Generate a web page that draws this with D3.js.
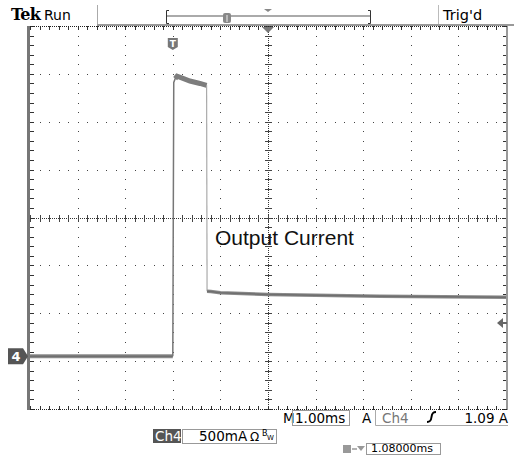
<!DOCTYPE html>
<html><head><meta charset="utf-8">
<script src="https://cdn.jsdelivr.net/npm/d3@7"></script>
<style>html,body{margin:0;padding:0;background:#fff;}svg{display:block;}</style>
</head><body>
<script>
// ---- data (time in ms relative to trigger, current in A) ----
const baseline = [[-3,0],[-1.5,0],[0,0]];
const pulse = [[0,0],[0.02,2.86],[0.05,2.90],[0.09,2.925],[0.2,2.905],[0.36,2.875],[0.57,2.85],[0.71,2.83]];
const fall = [[0.71,2.83],[0.72,0.68]];
const tail = [[0.72,0.68],[0.8,0.676],[1,0.665],[2,0.647],[3,0.637],[4.35,0.627],[7,0.617]];
const timeDomain = [-3,7];      // 10 div at 1.00 ms/div
const currentDomain = [-0.55,3.45]; // 8 div at 500 mA/div
const headerTexts = {tek:"Tek", run:"Run", trig:"Trig'd"};
const footer = {m:"M", timebase:"1.00ms", a:"A", src:"Ch4", level:"1.09 A", ch:"Ch4", scale:"500mA", pos:"1.08000ms"};
const label = "Output Current";

const W=514,H=455;
const svg=d3.select("body").append("svg").attr("width",W).attr("height",H);
const L=30,R=506,T=26,B=409;
const x=d3.scaleLinear().domain(timeDomain).range([L,R]);
const y=d3.scaleLinear().domain(currentDomain).range([B,T]);
const divX=(R-L)/10, divY=(B-T)/8;
const cx=(L+R)/2, cy=(T+B)/2;
const g=svg.append("g");
const dotC="#444";
// grid dots
for(let i=1;i<10;i++){ if(i===5) continue;
  const xx=L+i*divX;
  for(let j=0;j<=40;j++){ const yy=T+j*divY/5; g.append("rect").attr("x",Math.round(xx)).attr("y",Math.round(yy)).attr("width",1).attr("height",1).attr("fill",dotC);}
}
for(let j=1;j<8;j++){ if(j===4) continue;
  const yy=T+j*divY;
  for(let i=0;i<=50;i++){ const xx=L+i*divX/5; g.append("rect").attr("x",Math.round(xx)).attr("y",Math.round(yy)).attr("width",1).attr("height",1).attr("fill",dotC);}
}
// center lines (dotted + ticks)
for(let k=L;k<=R;k+=2){ g.append("rect").attr("x",k).attr("y",Math.round(cy)).attr("width",1).attr("height",1).attr("fill","#333");}
for(let k=T;k<=B;k+=2){ g.append("rect").attr("x",Math.round(cx)).attr("y",k).attr("width",1).attr("height",1).attr("fill","#333");}
for(let i=0;i<=50;i++){ const xx=Math.round(L+i*divX/5); g.append("rect").attr("x",xx).attr("y",Math.round(cy)-3).attr("width",1).attr("height",7).attr("fill","#444");}
for(let j=0;j<=40;j++){ const yy=Math.round(T+j*divY/5); g.append("rect").attr("x",Math.round(cx)-3).attr("y",yy).attr("width",7).attr("height",1).attr("fill","#444");}
// border ticks
for(let i=0;i<=50;i++){ const xx=Math.round(L+i*divX/5);
  g.append("rect").attr("x",xx).attr("y",T).attr("width",1).attr("height",4).attr("fill","#333");
  g.append("rect").attr("x",xx).attr("y",B-3).attr("width",1).attr("height",4).attr("fill","#333");}
for(let j=0;j<=40;j++){ const yy=Math.round(T+j*divY/5);
  g.append("rect").attr("x",L).attr("y",yy).attr("width",4).attr("height",1).attr("fill","#333");
  g.append("rect").attr("x",R-3).attr("y",yy).attr("width",4).attr("height",1).attr("fill","#333");}
// borders
g.append("rect").attr("x",L-3).attr("y",T).attr("width",3).attr("height",B-T+1).attr("fill","#777");
g.append("rect").attr("x",R).attr("y",T).attr("width",2).attr("height",B-T+1).attr("fill","#999");
for(let k=L;k<=R;k+=2){ g.append("rect").attr("x",k).attr("y",T).attr("width",1).attr("height",1).attr("fill","#222");
  g.append("rect").attr("x",k).attr("y",B).attr("width",1).attr("height",1).attr("fill","#222");}

// ---- trace ----
const line=d3.line().x(d=>x(d[0])).y(d=>y(d[1]));
const traceC="#7d7d7d";
svg.append("path").datum(baseline).attr("d",line).attr("fill","none").attr("stroke","#8a8a8a").attr("stroke-width",4);
svg.append("path").datum(baseline).attr("d",line).attr("fill","none").attr("stroke","#6f6f6f").attr("stroke-width",1.5);
svg.append("path").datum(pulse).attr("d",line).attr("fill","none").attr("stroke","#777").attr("stroke-width",1.5);
svg.append("path").datum(pulse.slice(2)).attr("d",line).attr("fill","none").attr("stroke",traceC).attr("stroke-width",5);
svg.append("path").datum(fall).attr("d",line).attr("fill","none").attr("stroke","#aaa").attr("stroke-width",1.2);
svg.append("path").datum(tail).attr("d",line).attr("fill","none").attr("stroke","#8a8a8a").attr("stroke-width",3.5);
svg.append("path").datum(tail).attr("d",line).attr("fill","none").attr("stroke","#6f6f6f").attr("stroke-width",1.5);

// label
svg.append("text").attr("x",215).attr("y",245).attr("font-family","Liberation Sans, Arial, sans-serif").attr("font-size",21).attr("fill","#111").text(label);

// ---- header ----
svg.append("text").attr("x",11).attr("y",20).attr("font-family","DejaVu Serif, serif").attr("font-weight","bold").attr("font-size",16).attr("fill","#000").attr("letter-spacing",-0.8).text(headerTexts.tek);
svg.append("text").attr("x",44).attr("y",20).attr("font-family","DejaVu Sans, sans-serif").attr("font-size",14).attr("fill","#000").text(headerTexts.run);
svg.append("text").attr("x",443).attr("y",20).attr("font-family","DejaVu Sans, sans-serif").attr("font-size",14.5).attr("fill","#000").text(headerTexts.trig);
svg.append("rect").attr("x",97).attr("y",5).attr("width",1).attr("height",20).attr("fill","#aaa");
svg.append("rect").attr("x",438).attr("y",5).attr("width",1).attr("height",20).attr("fill","#bbb");
svg.append("rect").attr("x",97).attr("y",24).attr("width",W-97).attr("height",2).attr("fill","#999");
// record bar
svg.append("rect").attr("x",167).attr("y",15).attr("width",203).attr("height",2).attr("fill","#aaa");
svg.append("path").attr("d","M169,10.5 H166.5 V23.5 H169").attr("fill","none").attr("stroke","#333").attr("stroke-width",1);
svg.append("path").attr("d","M368,10.5 H370.5 V23.5 H368").attr("fill","none").attr("stroke","#333").attr("stroke-width",1);
svg.append("rect").attr("x",223).attr("y",13).attr("width",8).attr("height",10).attr("rx",2).attr("fill","#888");
svg.append("rect").attr("x",226.5).attr("y",15).attr("width",1).attr("height",7).attr("fill","#eee");
svg.append("path").attr("d","M264,9 L272,9 L268,12 Z").attr("fill","#888");
// trigger position marker
svg.append("path").attr("d",`M${cx-6},27 L${cx+6},27 L${cx},33 Z`).attr("fill","#777");
// T marker
const tx=x(0);
svg.append("path").attr("d",`M${tx-5},38 h10 v9 l-5,3 l-5,-3 Z`).attr("fill","#777");
svg.append("text").attr("x",tx).attr("y",47).attr("text-anchor","middle").attr("font-family","DejaVu Sans, sans-serif").attr("font-weight","bold").attr("font-size",9).attr("fill","#fff").text("T");
// ch4 ground marker
const gy=y(0);
svg.append("path").attr("d",`M8,${gy-8} h15 l5,8 l-5,8 h-15 Z`).attr("fill","#555");
svg.append("text").attr("x",16).attr("y",gy+5).attr("text-anchor","middle").attr("font-family","DejaVu Sans, sans-serif").attr("font-weight","bold").attr("font-size",13).attr("fill","#fff").text("4");
// trigger level arrow
svg.append("path").attr("d","M497,323 L503,318 L503,328 Z").attr("fill","#666");
svg.append("rect").attr("x",501).attr("y",322).attr("width",6).attr("height",2).attr("fill","#666");

// ---- footer ----
const ff="DejaVu Sans, sans-serif";
svg.append("text").attr("x",283).attr("y",423).attr("font-family",ff).attr("font-size",13.5).attr("fill","#000").text(footer.m);
svg.append("rect").attr("x",292.5).attr("y",410.5).attr("width",57).attr("height",15).attr("fill","none").attr("stroke","#999");
svg.append("text").attr("x",295).attr("y",423).attr("font-family",ff).attr("font-size",13.5).attr("fill","#000").text(footer.timebase);
svg.append("text").attr("x",362).attr("y",423).attr("font-family",ff).attr("font-size",13.5).attr("fill","#000").text(footer.a);
svg.append("path").attr("d",`M375.5,410 V425.5 H${R+2}`).attr("fill","none").attr("stroke","#aaa");
svg.append("text").attr("x",382).attr("y",423).attr("font-family",ff).attr("font-size",13.5).attr("fill","#777").text(footer.src);
svg.append("path").attr("d","M427,422 C430,422 431,421 431.5,417 C432,413 433,412 436,412").attr("fill","none").attr("stroke","#000").attr("stroke-width",2);
svg.append("text").attr("x",508).attr("y",423).attr("text-anchor","end").attr("font-family",ff).attr("font-size",13.5).attr("fill","#000").text(footer.level);
// line 2
svg.append("rect").attr("x",153).attr("y",429).attr("width",28).attr("height",14).attr("fill","#555");
svg.append("text").attr("x",155).attr("y",441).attr("font-family",ff).attr("font-size",13.5).attr("fill","#fff").text(footer.ch);
svg.append("rect").attr("x",182.5).attr("y",429.5).attr("width",94).attr("height",14).attr("fill","none").attr("stroke","#999");
svg.append("text").attr("x",199).attr("y",441).attr("font-family",ff).attr("font-size",13.5).attr("fill","#000").text(footer.scale);
svg.append("text").attr("x",250).attr("y",441).attr("font-family",ff).attr("font-size",12).attr("fill","#000").text("Ω");
svg.append("text").attr("x",262).attr("y",436).attr("font-family",ff).attr("font-size",8).attr("fill","#000").text("B");
svg.append("text").attr("x",267).attr("y",440).attr("font-family",ff).attr("font-size",7).attr("fill","#000").text("W");
// line 3
svg.append("rect").attr("x",343).attr("y",445).attr("width",8).attr("height",8).attr("fill","#999");
svg.append("path").attr("d","M352,449 h5").attr("stroke","#999").attr("stroke-width",1.5);
svg.append("path").attr("d","M357,446 L365,446 L361,451 Z").attr("fill","#999");
svg.append("rect").attr("x",366.5).attr("y",443.5).attr("width",74).attr("height",11).attr("fill","none").attr("stroke","#999");
svg.append("text").attr("x",371).attr("y",452).attr("font-family",ff).attr("font-size",11).attr("fill","#000").text(footer.pos);
</script>
</body></html>
